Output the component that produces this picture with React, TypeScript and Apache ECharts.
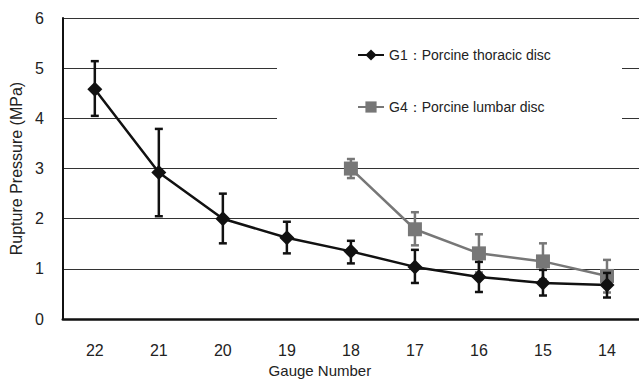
import React, { useEffect, useRef } from "react";
import * as echarts from "echarts";

const gauges = ["22", "21", "20", "19", "18", "17", "16", "15", "14"];
const g1Mean = [4.58, 2.92, 2.0, 1.62, 1.35, 1.04, 0.84, 0.72, 0.68];
const g1Low = [4.05, 2.05, 1.51, 1.31, 1.11, 0.72, 0.54, 0.47, 0.43];
const g1High = [5.14, 3.79, 2.5, 1.94, 1.56, 1.38, 1.14, 0.98, 0.92];
const g4Mean = [null, null, null, null, 3.0, 1.79, 1.31, 1.15, 0.86];
const g4Low = [null, null, null, null, 2.81, 1.47, 0.93, 0.79, 0.53];
const g4High = [null, null, null, null, 3.19, 2.13, 1.69, 1.51, 1.18];
const yTicks = [0, 1, 2, 3, 4, 5, 6];

const G1_NAME = "G1：Porcine thoracic disc";
const G4_NAME = "G4：Porcine lumbar disc";
const BLACK = "#111111";
const GRAY = "#777777";
const FONT = "Liberation Sans, Arial, sans-serif";

function errData(low: (number | null)[], high: (number | null)[]) {
  const out: number[][] = [];
  low.forEach((l, i) => {
    const h = high[i];
    if (l != null && h != null) out.push([i, l, h]);
  });
  return out;
}

function errSeries(data: number[][], color: string, z: number) {
  return {
    type: "custom",
    data,
    z,
    silent: true,
    renderItem: (params: any, api: any) => {
      const x = api.value(0);
      const lo = api.coord([x, api.value(1)]);
      const hi = api.coord([x, api.value(2)]);
      const w = 4;
      const style = { stroke: color, lineWidth: 2.5, fill: "none" };
      return {
        type: "group",
        children: [
          { type: "line", shape: { x1: lo[0], y1: lo[1], x2: hi[0], y2: hi[1] }, style },
          { type: "line", shape: { x1: hi[0] - w, y1: hi[1], x2: hi[0] + w, y2: hi[1] }, style },
          { type: "line", shape: { x1: lo[0] - w, y1: lo[1], x2: lo[0] + w, y2: lo[1] }, style },
        ],
      };
    },
  };
}

export default function App() {
  const ref = useRef<HTMLDivElement>(null);
  useEffect(() => {
    if (!ref.current) return;
    const chart = echarts.init(ref.current, undefined, { renderer: "svg" });
    chart.setOption({
      animation: false,
      backgroundColor: "#ffffff",
      textStyle: { fontFamily: FONT },
      grid: { left: 57, top: 18, width: 585, bottom: 53 },
      graphic: [
        {
          type: "rect",
          z: 1,
          shape: { x: 277, y: 24, width: 345, height: 144 },
          style: { fill: "#ffffff" },
        },
      ],
      legend: {
        orient: "vertical",
        left: 352,
        top: 43,
        itemWidth: 26,
        itemHeight: 14,
        itemGap: 38,
        z: 3,
        data: [G1_NAME, G4_NAME],
        textStyle: { fontSize: 14, color: "#222", fontFamily: FONT },
      },
      xAxis: {
        type: "category",
        data: gauges,
        boundaryGap: true,
        name: "Gauge Number",
        nameLocation: "middle",
        nameGap: 40,
        nameTextStyle: { fontSize: 15, color: "#222", padding: [0, 62, 0, 0] },
        axisLine: { lineStyle: { color: BLACK, width: 2.5 } },
        axisTick: { inside: true, length: 6, lineStyle: { color: BLACK, width: 1.5 } },
        axisLabel: { fontSize: 16, color: "#222", margin: 23 },
        splitLine: { show: false },
      },
      yAxis: {
        type: "value",
        min: 0,
        max: 6,
        interval: 1,
        name: "Rupture Pressure (MPa)",
        nameLocation: "middle",
        nameGap: 33,
        nameTextStyle: { fontSize: 16, color: "#222" },
        axisLine: { show: true, lineStyle: { color: BLACK, width: 2 } },
        axisTick: { show: false },
        axisLabel: {
          fontSize: 16,
          color: "#222",
          margin: 19,
          formatter: (v: number) => (yTicks.includes(v) ? String(v) : ""),
        },
        splitLine: { show: true, lineStyle: { color: "#333", width: 1 } },
      },
      series: [
        errSeries(errData(g4Low, g4High), GRAY, 2),
        {
          name: G4_NAME,
          type: "line",
          data: g4Mean,
          z: 3,
          symbol: "rect",
          symbolSize: 14,
          lineStyle: { color: GRAY, width: 2.5 },
          itemStyle: { color: GRAY },
        },
        errSeries(errData(g1Low, g1High), BLACK, 4),
        {
          name: G1_NAME,
          type: "line",
          data: g1Mean,
          z: 5,
          symbol: "diamond",
          symbolSize: 15,
          lineStyle: { color: BLACK, width: 2.5 },
          itemStyle: { color: BLACK },
        },
      ],
    });
    return () => chart.dispose();
  }, []);
  return (
    <div
      ref={ref}
      style={{ position: "fixed", left: 0, top: 0, width: 639, height: 383, background: "#fff" }}
    />
  );
}
